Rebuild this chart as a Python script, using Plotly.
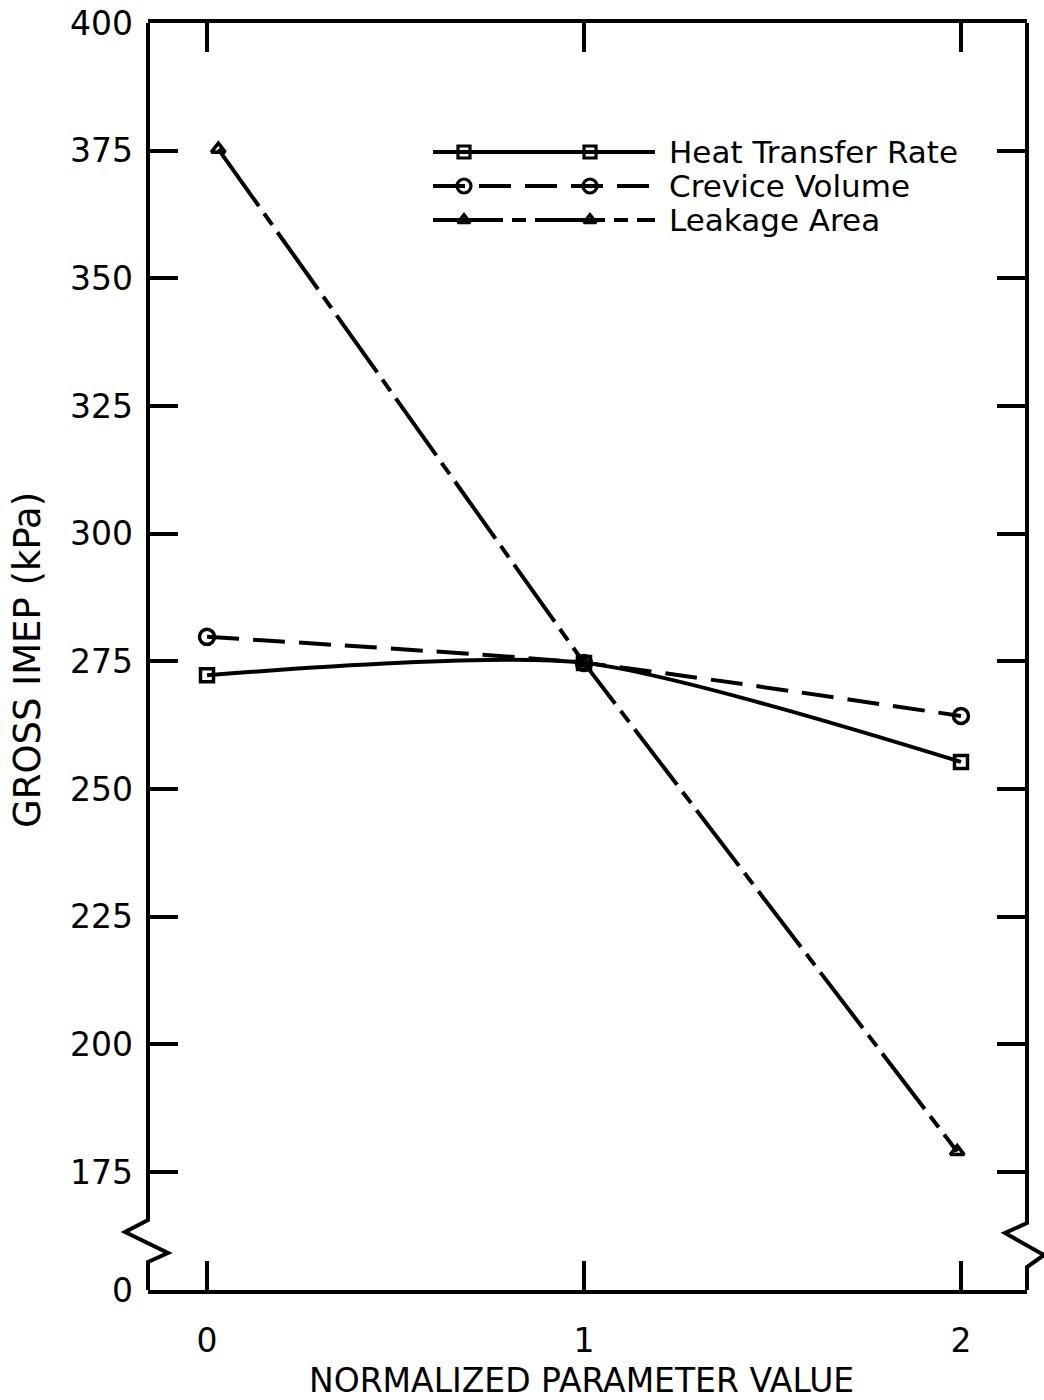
import plotly.graph_objects as go

# ---- data -------------------------------------------------------------
series_names = ["Heat Transfer Rate", "Crevice Volume", "Leakage Area"]

heat_x = [0.0, 1.0, 2.0]
heat_imep = [272.3, 274.7, 255.3]

crevice_x = [0.0, 1.0, 2.0]
crevice_imep = [279.8, 274.7, 264.3]

leak_x = [0.03, 1.0, 1.99]
leak_imep = [375.3, 274.7, 179.0]

x_tickvals = [0, 1, 2]
x_ticktext = ["0", "1", "2"]
y_tickvals = [175, 200, 225, 250, 275, 300, 325, 350, 375, 400]
y_break_value = 151.9          # axis bottom after the break, labelled "0"

# ---- figure geometry (pixels) -----------------------------------------
W, H = 1044, 1400
L, R, T, B = 148, 1027, 23, 1290
PW, PH = R - L, B - T


def px(x):   # page pixel -> paper fraction (x)
    return (x - L) / PW


def py(y):   # page pixel -> paper fraction (y)
    return (B - y) / PH


FONT = "DejaVu Sans"
INK = "black"
LW = 4

styles = {
    "Heat Transfer Rate": dict(dash="solid", symbol="square-open", size=13, shape="spline", smooth=0.7),
    "Crevice Volume": dict(dash="32px,14px", symbol="circle-open", size=15, shape="spline", smooth=0.5),
    "Leakage Area": dict(dash="70px,9px,14px,9px", symbol="triangle-up-open", size=12, shape="linear", smooth=0),
}

fig = go.Figure()

for name, xs, ys in [
    ("Heat Transfer Rate", heat_x, heat_imep),
    ("Crevice Volume", crevice_x, crevice_imep),
    ("Leakage Area", leak_x, leak_imep),
]:
    st = styles[name]
    line = dict(color=INK, width=LW, dash=st["dash"], shape=st["shape"])
    if st["shape"] == "spline":
        line["smoothing"] = st["smooth"]
    fig.add_trace(go.Scatter(
        x=xs, y=ys, mode="lines+markers", name=name, showlegend=False,
        line=line,
        marker=dict(symbol=st["symbol"], size=st["size"], color=INK,
                    line=dict(width=3.5, color=INK)),
        cliponaxis=False,
    ))

# ---- hand-drawn legend on an overlay axis in paper units ---------------
leg_line_x = [px(433), px(655)]
leg_mark_x = [px(464), px(590)]
leg_rows = [py(152), py(186), py(220)]

for name, yrow in zip(series_names, leg_rows):
    st = styles[name]
    fig.add_trace(go.Scatter(
        x=leg_line_x, y=[yrow, yrow], mode="lines", xaxis="x2", yaxis="y2",
        showlegend=False, hoverinfo="skip",
        line=dict(color=INK, width=LW, dash=st["dash"]),
    ))
    fig.add_trace(go.Scatter(
        x=leg_mark_x, y=[yrow, yrow], mode="markers", xaxis="x2", yaxis="y2",
        showlegend=False, hoverinfo="skip",
        marker=dict(symbol=st["symbol"], size=st["size"] - 1, color=INK,
                    line=dict(width=3.2, color=INK)),
    ))
    fig.add_annotation(
        x=px(667), y=yrow, xref="paper", yref="paper", text=name,
        showarrow=False, xanchor="left", yanchor="middle",
        font=dict(family=FONT, size=31, color=INK),
    )

# ---- axis frame with break marks on both vertical sides ----------------
def zigzag(x_edge, pts):
    d = f"M {x_edge},1 "
    for dx, yy in pts:
        d += f"L {x_edge + dx / PW},{py(yy)} "
    d += f"L {x_edge},0"
    return d


left_path = zigzag(0, [(0, 1220), (-23, 1232), (20, 1253), (0, 1262)])
right_path = zigzag(1, [(0, 1223), (-22, 1233), (17, 1255), (0, 1267)])
for p in (left_path, right_path):
    fig.add_shape(type="path", path=p, xref="paper", yref="paper",
                  line=dict(color=INK, width=LW), layer="above")

# ---- axis titles --------------------------------------------------------
fig.add_annotation(
    x=px(581), y=py(1380), xref="paper", yref="paper",
    text="NORMALIZED PARAMETER VALUE", showarrow=False,
    xanchor="center", yanchor="middle",
    font=dict(family=FONT, size=33, color=INK),
)
fig.add_annotation(
    x=px(28), y=py(660), xref="paper", yref="paper",
    text="GROSS IMEP (kPa)", showarrow=False, textangle=-90,
    xanchor="center", yanchor="middle",
    font=dict(family=FONT, size=37, color=INK),
)

x_lo = -(207 - L) / 377
x_hi = 2 + (R - 961) / 377

fig.update_layout(
    width=W, height=H,
    margin=dict(l=L, r=W - R, t=T, b=H - B, pad=0, autoexpand=False),
    paper_bgcolor="white", plot_bgcolor="white",
    font=dict(family=FONT, size=32, color=INK),
    showlegend=False,
    xaxis=dict(
        range=[x_lo, x_hi], tickvals=x_tickvals, ticktext=x_ticktext,
        showgrid=False, zeroline=False, automargin=False,
        showline=True, linecolor=INK, linewidth=LW, mirror="ticks",
        ticks="inside", ticklen=29, tickwidth=4, tickcolor=INK,
        ticklabelstandoff=18,
        tickfont=dict(family=FONT, size=33, color=INK),
    ),
    yaxis=dict(
        range=[y_break_value, 400],
        tickvals=[y_break_value] + y_tickvals,
        ticktext=["0"] + [str(v) for v in y_tickvals],
        showgrid=False, zeroline=False, automargin=False,
        showline=False, mirror="ticks",
        ticks="inside", ticklen=30, tickwidth=4, tickcolor=INK,
        ticklabelstandoff=14,
        tickfont=dict(family=FONT, size=33, color=INK),
    ),
    xaxis2=dict(range=[0, 1], overlaying="x", visible=False, fixedrange=True),
    yaxis2=dict(range=[0, 1], overlaying="y", visible=False, fixedrange=True),
)

fig.write_html("out.html")
